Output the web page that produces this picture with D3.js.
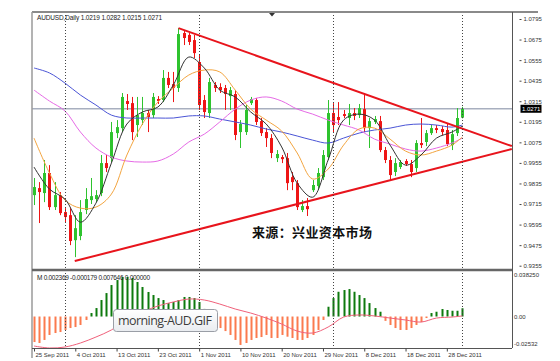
<!DOCTYPE html>
<html>
<head>
<meta charset="utf-8">
<style>
body { margin: 0; background: #fff; }
svg { display: block; font-family: "Liberation Sans", Arial, sans-serif; }
.axis path { display: none; }
.axis line { stroke: #444; }
.axis text { fill: #333; font-size: 6px; font-family: "Liberation Sans", Arial, sans-serif; }
</style>
</head>
<body>
<svg width="560" height="361"></svg>
<script src="https://d3js.org/d3.v7.min.js"></script>
<script>
// AUDUSD daily bars, bar 0 = 25 Sep 2011 (broker has Sunday bars)
var opens = [0.9767,0.9808,0.9779,0.9896,0.9697,0.9767,0.9668,0.9650,0.9504,0.9528,
  0.9680,0.9738,0.9744,0.9779,0.9954,0.9983,1.0129,1.0158,1.0316,1.0304,
  1.0176,1.0205,1.0246,1.0234,1.0328,1.0322,1.0451,1.0415,1.0392,1.0713,
  1.0702,1.0672,1.0544,1.0322,1.0246,1.0410,1.0398,1.0392,1.0345,1.0357,
  1.0135,1.0135,1.0304,1.0322,1.0199,1.0135,1.0100,0.9983,0.9989,0.9983,
  0.9872,0.9837,0.9680,0.9703,0.9796,0.9820,0.9872,0.9989,1.0246,1.0223,
  1.0240,1.0217,1.0246,1.0234,1.0269,1.0158,1.0194,1.0199,1.0030,0.9972,
  0.9902,0.9931,0.9966,0.9948,0.9925,1.0071,1.0077,1.0129,1.0158,1.0153,
  1.0147,1.0059,1.0129,1.0219];
var highs = [0.9867,0.9843,0.9972,0.9942,0.9843,0.9785,0.9691,0.9691,0.9650,0.9738,
  0.9808,0.9867,0.9796,1.0001,1.0001,1.0194,1.0205,1.0363,1.0357,1.0340,
  1.0340,1.0340,1.0264,1.0363,1.0345,1.0497,1.0486,1.0486,1.0742,1.0731,
  1.0713,1.0702,1.0585,1.0351,1.0451,1.0427,1.0420,1.0410,1.0398,1.0380,
  1.0205,1.0293,1.0340,1.0334,1.0217,1.0158,1.0123,1.0030,1.0001,1.0013,
  0.9902,0.9855,0.9738,0.9750,0.9855,0.9925,1.0030,1.0322,1.0304,1.0310,
  1.0264,1.0299,1.0275,1.0299,1.0363,1.0217,1.0229,1.0229,1.0048,0.9995,
  0.9983,0.9972,0.9977,0.9972,1.0088,1.0217,1.0147,1.0176,1.0176,1.0170,
  1.0188,1.0147,1.0275,1.0282];
var lows = [0.9709,0.9604,0.9726,0.9680,0.9680,0.9650,0.9609,0.9475,0.9405,0.9504,
  0.9656,0.9715,0.9726,0.9761,0.9902,0.9960,1.0100,1.0135,1.0264,1.0088,
  1.0106,1.0176,1.0135,1.0217,1.0299,1.0310,1.0392,1.0310,1.0369,1.0643,
  1.0643,1.0567,1.0264,1.0217,1.0217,1.0369,1.0363,1.0264,1.0264,1.0088,
  1.0042,1.0118,1.0293,1.0176,1.0112,1.0048,0.9983,0.9960,0.9954,0.9796,
  0.9796,0.9680,0.9668,0.9645,0.9785,0.9796,0.9855,0.9972,1.0135,1.0176,
  1.0217,1.0176,1.0205,1.0217,1.0135,1.0042,1.0182,1.0018,0.9954,0.9855,
  0.9878,0.9919,0.9937,0.9872,0.9902,1.0042,1.0053,1.0118,1.0129,1.0118,
  1.0053,1.0030,1.0112,1.0215];
var closes = [0.9814,0.9785,0.9896,0.9697,0.9767,0.9662,0.9639,0.9499,0.9574,0.9668,
  0.9744,0.9761,0.9767,0.9954,0.9925,1.0135,1.0164,1.0340,1.0299,1.0135,
  1.0234,1.0246,1.0223,1.0340,1.0316,1.0451,1.0410,1.0392,1.0707,1.0684,
  1.0661,1.0596,1.0293,1.0252,1.0427,1.0392,1.0380,1.0357,1.0380,1.0118,
  1.0182,1.0264,1.0328,1.0194,1.0129,1.0100,1.0013,1.0007,0.9977,0.9837,
  0.9843,0.9697,0.9703,0.9685,0.9826,0.9896,1.0001,1.0246,1.0176,1.0205,
  1.0229,1.0246,1.0229,1.0275,1.0158,1.0199,1.0211,1.0030,0.9972,0.9884,
  0.9954,0.9960,0.9948,0.9902,1.0071,1.0059,1.0129,1.0158,1.0147,1.0135,
  1.0065,1.0123,1.0217,1.0271];

// moving averages read every third bar
var maIdx = [0,3,6,9,12,15,18,21,24,27,30,33,36,39,42,45,48,51,54,57,60,63,66,69,72,75,78,81,83];
var maBlack = [0.9931,0.9802,0.9744,0.9609,0.9720,0.9954,1.0182,1.0252,1.0281,1.0410,1.0573,1.0509,1.0380,1.0340,1.0252,1.0182,1.0048,0.9837,0.9755,0.9972,1.0205,1.0240,1.0205,1.0059,0.9942,1.0001,1.0100,1.0135,1.0170];
var maOrange = [1.0100,0.9896,0.9738,0.9691,0.9697,0.9773,1.0001,1.0182,1.0310,1.0392,1.0468,1.0497,1.0486,1.0380,1.0269,1.0205,1.0141,1.0013,0.9861,0.9919,1.0059,1.0153,1.0158,1.0094,1.0024,1.0001,1.0024,1.0059,1.0106];
var maPink = [1.0380,1.0316,1.0258,1.0135,1.0042,0.9989,0.9966,0.9960,0.9966,1.0007,1.0077,1.0123,1.0194,1.0269,1.0322,1.0340,1.0316,1.0269,1.0240,1.0205,1.0176,1.0147,1.0094,1.0065,1.0036,1.0024,1.0042,1.0071,1.0100];
var maBlue = [1.0509,1.0480,1.0421,1.0351,1.0293,1.0234,1.0217,1.0217,1.0217,1.0217,1.0229,1.0229,1.0211,1.0194,1.0176,1.0153,1.0135,1.0112,1.0088,1.0071,1.0100,1.0129,1.0147,1.0158,1.0176,1.0182,1.0176,1.0164,1.0176];

// MACD sub-window
var macdHist = [-0.0235,-0.0244,-0.0216,-0.0170,-0.0152,-0.0143,-0.0124,-0.0106,-0.0097,-0.0078,
  -0.0032,0.0032,0.0078,0.0152,0.0216,0.0290,0.0336,0.0364,0.0364,0.0355,
  0.0318,0.0272,0.0226,0.0198,0.0170,0.0152,0.0124,0.0134,0.0152,0.0180,
  0.0180,0.0170,0.0134,0.0070,0.0010,-0.0060,-0.0106,-0.0134,-0.0170,-0.0216,
  -0.0262,-0.0244,-0.0216,-0.0198,-0.0189,-0.0170,-0.0198,-0.0198,-0.0170,-0.0186,
  -0.0198,-0.0216,-0.0216,-0.0198,-0.0170,-0.0124,-0.0032,0.0090,0.0170,0.0228,
  0.0244,0.0253,0.0228,0.0198,0.0170,0.0124,0.0078,0.0044,-0.0040,-0.0078,
  -0.0106,-0.0124,-0.0124,-0.0106,-0.0078,-0.0051,-0.0014,0.0032,0.0044,0.0069,
  0.0060,0.0053,0.0053,0.0076];
var macdSignal = [-0.0272,-0.0290,-0.0281,-0.0244,-0.0189,-0.0124,-0.0032,0.0041,0.0097,0.0134,0.0161,0.0152,0.0115,0.0069,0.0032,-0.0014,-0.0069,-0.0134,-0.0152,-0.0097,-0.0005,0.0014,0.0005,-0.0014,-0.0032,-0.0051,-0.0014,-0.0005,0.0005];

// triangle drawn on the chart: [bar, price]
var upperLine = [[28, 1.0742], [92.6, 1.0053]];
var lowerLine = [[7.9, 0.9382], [92.6, 1.0036]];

var priceTicks = [1.0795,1.0675,1.0555,1.0435,1.0315,1.0195,1.0075,0.9955,0.9835,0.9715,0.9595,0.9475,0.9355];
var macdTicks = [0.038250, 0.00, -0.02532];
var macdTickLabels = ["0.038250", "0.00", "-0.02532"];
var dateIdx = [0,8,16,24,32,40,48,56,64,72,80];
var dateLabels = ["25 Sep 2011","4 Oct 2011","13 Oct 2011","23 Oct 2011","1 Nov 2011","10 Nov 2011",
  "20 Nov 2011","29 Nov 2011","8 Dec 2011","18 Dec 2011","28 Dec 2011"];
var sepIdx = [6, 32, 58, 83];
var lastClose = 1.0271;

var svg = d3.select("svg"),
    pLeft = 32, pRight = 512, pTop = 12, mainBottom = 269, subTop = 271, pBottom = 348;

var x = d3.scaleLinear().domain([0, 83]).range([34, 462.3]);
var y = d3.scaleLinear().domain([0.9355, 1.0795]).range([265.7, 19]);
var ym = d3.scaleLinear().domain([-0.02532, 0.03825]).range([344, 275]);

var defs = svg.append("defs");
defs.append("clipPath").attr("id", "clipMain")
  .append("rect").attr("x", pLeft).attr("y", pTop).attr("width", pRight - pLeft).attr("height", mainBottom - pTop);
defs.append("clipPath").attr("id", "clipSub")
  .append("rect").attr("x", pLeft).attr("y", subTop).attr("width", pRight - pLeft).attr("height", pBottom - subTop);
var grad = defs.append("linearGradient").attr("id", "tip").attr("x1", 0).attr("y1", 0).attr("x2", 0).attr("y2", 1);
grad.append("stop").attr("offset", "0%").attr("stop-color", "#ffffff");
grad.append("stop").attr("offset", "100%").attr("stop-color", "#e9ecf0");

var main = svg.append("g").attr("clip-path", "url(#clipMain)");
var sub = svg.append("g").attr("clip-path", "url(#clipSub)");

// current price line
main.append("line")
  .attr("x1", pLeft).attr("x2", pRight)
  .attr("y1", y(lastClose)).attr("y2", y(lastClose))
  .attr("stroke", "#a8afbf").attr("stroke-width", 1.5);

// candles
var bars = d3.range(opens.length);
var green = "#2ec32e", red = "#ee1515";
main.selectAll(".wick").data(bars).enter().append("line")
  .attr("x1", function(i) { return Math.round(x(i)) + 0.5; })
  .attr("x2", function(i) { return Math.round(x(i)) + 0.5; })
  .attr("y1", function(i) { return y(highs[i]); })
  .attr("y2", function(i) { return y(lows[i]); })
  .attr("stroke", function(i) { return closes[i] >= opens[i] ? green : red; });
main.selectAll(".body").data(bars).enter().append("rect")
  .attr("x", function(i) { return Math.round(x(i)) - 1; })
  .attr("width", 3)
  .attr("y", function(i) { return y(Math.max(opens[i], closes[i])); })
  .attr("height", function(i) { return Math.max(1, Math.abs(y(opens[i]) - y(closes[i]))); })
  .attr("fill", function(i) { return closes[i] >= opens[i] ? green : red; });

// moving averages
var maLine = d3.line()
  .x(function(d, i) { return x(maIdx[i]); })
  .y(function(d) { return y(d); })
  .curve(d3.curveCatmullRom);
[[maBlue, "#4b55d6"], [maPink, "#e66ae6"], [maOrange, "#f3a540"], [maBlack, "#333"]].forEach(function(m) {
  main.append("path").datum(m[0]).attr("d", maLine)
    .attr("fill", "none").attr("stroke", m[1]).attr("stroke-width", 1);
});

// triangle
var tl = d3.line().x(function(d) { return x(d[0]); }).y(function(d) { return y(d[1]); });
[upperLine, lowerLine].forEach(function(l) {
  main.append("path").datum(l).attr("d", tl)
    .attr("fill", "none").attr("stroke", "#e8141c").attr("stroke-width", 2);
});

// MACD histogram and signal
sub.selectAll(".hist").data(bars).enter().append("rect")
  .attr("x", function(i) { return Math.round(x(i)) - 0.5; })
  .attr("width", 2)
  .attr("y", function(i) { return Math.min(ym(0), ym(macdHist[i])); })
  .attr("height", function(i) { return Math.abs(ym(macdHist[i]) - ym(0)); })
  .attr("fill", function(i) { return macdHist[i] >= 0 ? "#0e7a0e" : "#fb7a4e"; });
sub.append("path").datum(macdSignal)
  .attr("d", d3.line().x(function(d, i) { return x(maIdx[i]); }).y(function(d) { return ym(d); }).curve(d3.curveCatmullRom))
  .attr("fill", "none").attr("stroke", "#f0607a").attr("stroke-width", 1);

// period separators
svg.selectAll(".sep").data(sepIdx).enter().append("line")
  .attr("x1", function(d) { return Math.round(x(d)) + 0.5; })
  .attr("x2", function(d) { return Math.round(x(d)) + 0.5; })
  .attr("y1", pTop).attr("y2", pBottom)
  .attr("stroke", "#444").attr("stroke-dasharray", "1,2");

// frame
svg.append("line").attr("x1", pLeft).attr("x2", 538).attr("y1", pTop).attr("y2", pTop)
  .attr("stroke", "#8a8a8a").attr("stroke-width", 2);
svg.append("line").attr("x1", pLeft).attr("x2", pLeft).attr("y1", pTop).attr("y2", 358)
  .attr("stroke", "#9a9a9a").attr("stroke-width", 1.5);
svg.append("line").attr("x1", pRight + 0.5).attr("x2", pRight + 0.5).attr("y1", pTop).attr("y2", pBottom)
  .attr("stroke", "#555");
svg.append("line").attr("x1", pLeft).attr("x2", pRight).attr("y1", 270).attr("y2", 270)
  .attr("stroke", "#666").attr("stroke-width", 2.5);
svg.append("line").attr("x1", pLeft).attr("x2", pRight).attr("y1", pBottom + 0.5).attr("y2", pBottom + 0.5)
  .attr("stroke", "#555");

// axes
svg.append("g").attr("class", "axis").attr("transform", "translate(519.5,0)")
  .call(d3.axisRight(y).tickValues(priceTicks).tickSize(2).tickPadding(2).tickFormat(d3.format(".4f")));
svg.append("g").attr("class", "axis").attr("transform", "translate(513,0)")
  .call(d3.axisRight(ym).tickValues(macdTicks).tickSize(0).tickPadding(1)
    .tickFormat(function(d, i) { return macdTickLabels[i]; }));
var xa = svg.append("g").attr("class", "axis").attr("transform", "translate(0," + (pBottom + 0.5) + ")")
  .call(d3.axisBottom(x).tickValues(dateIdx).tickSize(3).tickPadding(1.5)
    .tickFormat(function(d, i) { return dateLabels[i]; }));
xa.selectAll("text").attr("text-anchor", "start").attr("dx", 1);

// last price box
svg.append("rect").attr("x", 520.5).attr("y", y(lastClose) - 4).attr("width", 21).attr("height", 8).attr("fill", "#000");
svg.append("text").attr("x", 522).attr("y", y(lastClose) + 2.2)
  .attr("fill", "#fff").style("font-size", "6px").text(d3.format(".4f")(lastClose));

// chart shift marker
svg.append("path").attr("d", "M269,13L275,13L272,16.5Z").attr("fill", "#333");

// headers
svg.append("text").attr("x", 37).attr("y", 19.5).attr("textLength", 125)
  .style("font-size", "6.5px").attr("fill", "#222")
  .text("AUDUSD,Daily  1.0219 1.0282 1.0215 1.0271");
svg.append("text").attr("x", 37).attr("y", 279.5).attr("textLength", 113)
  .style("font-size", "6.5px").attr("fill", "#222")
  .text("M 0.002369 -0.000179 0.007646 0.000000");

// watermark
svg.append("text").attr("x", 252).attr("y", 237).attr("textLength", 120)
  .style("font-family", "'Noto Sans CJK SC', sans-serif").style("font-size", "13px").style("font-weight", "bold")
  .attr("fill", "#111").text("来源：兴业资本市场");

// file name tooltip
svg.append("rect").attr("x", 113.5).attr("y", 309.5).attr("width", 104).attr("height", 22).attr("rx", 3)
  .attr("fill", "url(#tip)").attr("stroke", "#9a9ea6");
svg.append("text").attr("x", 118).attr("y", 325).attr("textLength", 94)
  .style("font-family", "'Open Sans', 'Noto Sans', sans-serif").style("font-size", "12.5px")
  .attr("fill", "#3c3c3c").text("morning-AUD.GIF");
</script>
</body>
</html>
